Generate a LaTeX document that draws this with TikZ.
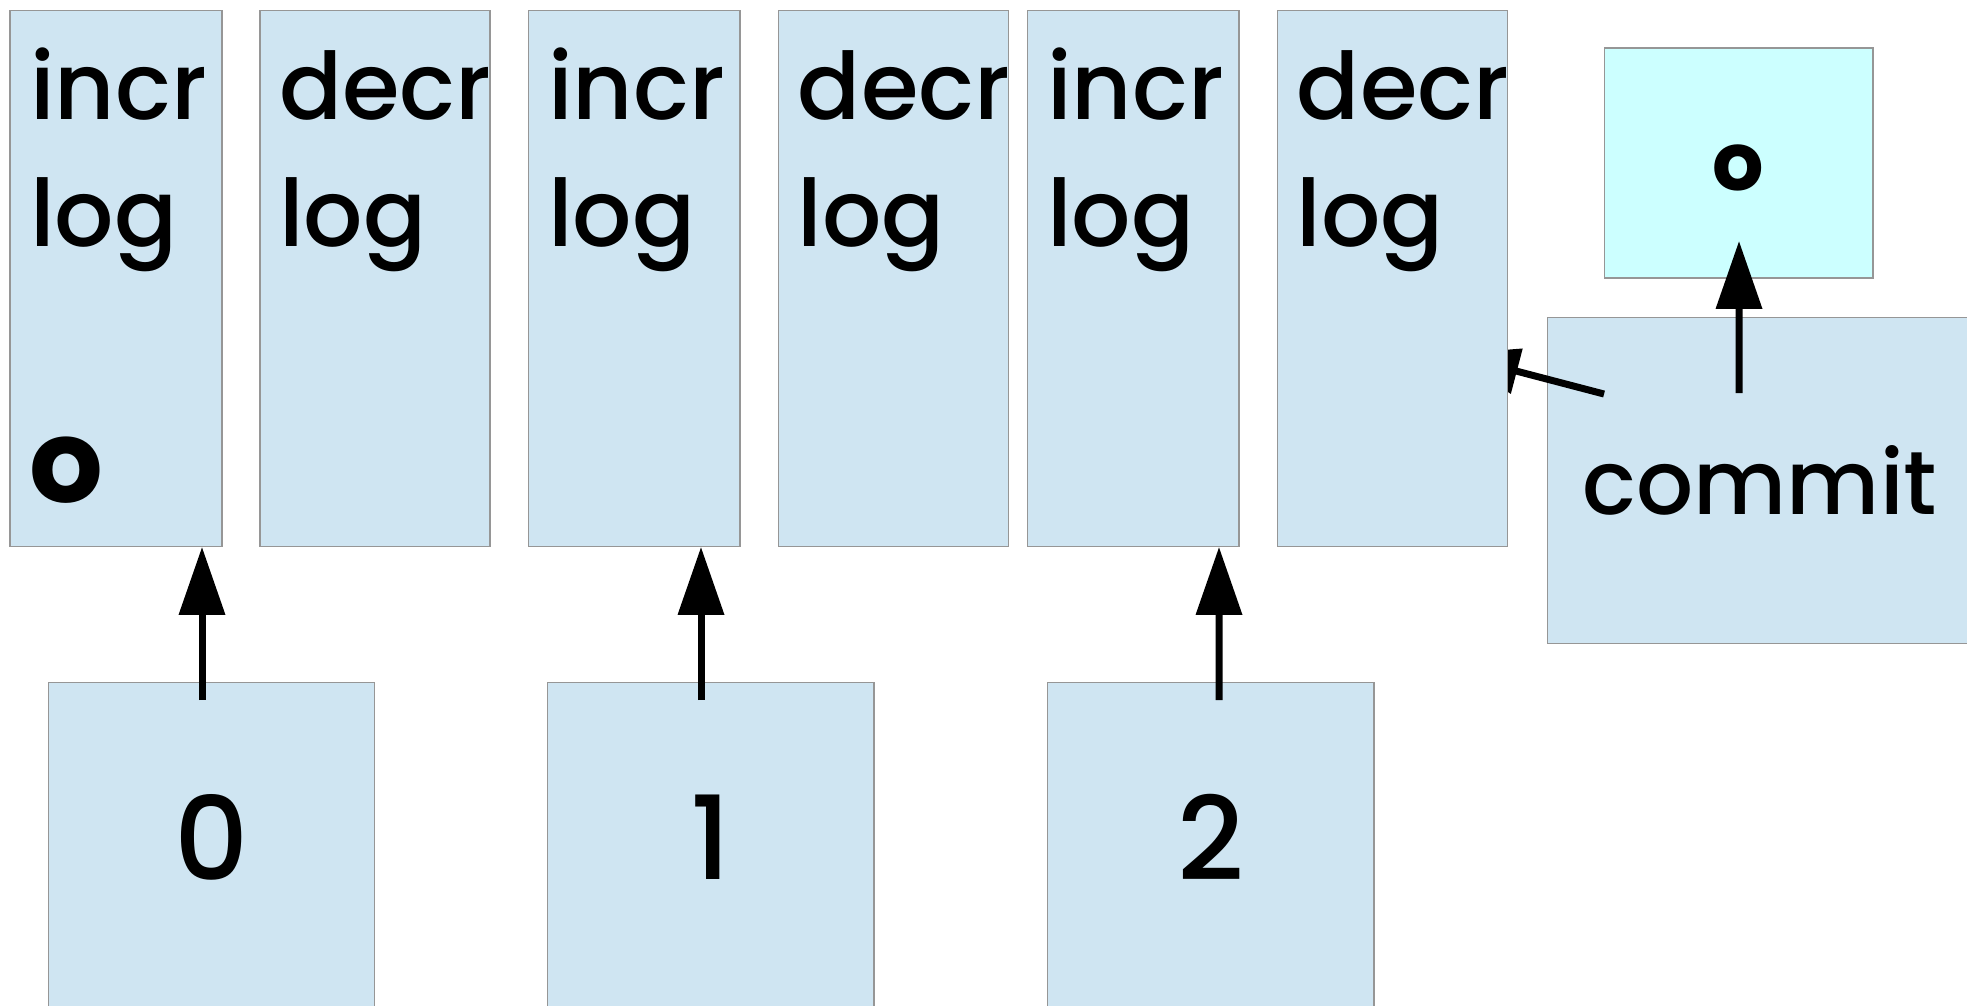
\documentclass[tikz,border=0pt]{standalone}
\usepackage{fontspec}
\setmainfont{Poppins}[UprightFont={* Medium}, BoldFont={* Bold}]
\usepackage{xcolor}
\usetikzlibrary{arrows.meta, positioning}

\definecolor{logblue}{RGB}{207,229,242}
\definecolor{headcyan}{RGB}{204,255,255}
\definecolor{boxgray}{RGB}{150,150,150}

\begin{document}
\begin{tikzpicture}[
    x=0.02cm, y=-0.02cm,
    >={Triangle[length=1.36cm, width=0.9cm]},
    logbox/.style={rectangle, draw=boxgray, line width=0.6pt, fill=logblue, outer sep=0pt, inner sep=0pt},
    incrbox/.style={logbox, minimum width=4.24cm, minimum height=10.74cm},
    decrbox/.style={logbox, minimum width=4.6cm, minimum height=10.74cm},
    valbox/.style={logbox, minimum width=6.54cm, minimum height=6.54cm},
    logtext/.style={font=\fontsize{53}{72}\selectfont, align=left, inner sep=0pt, anchor=base west},
    digit/.style={font=\fontsize{66}{66}\selectfont, inner sep=0pt},
    arr/.style={->, line width=0.14cm}
]
\useasboundingbox (0,0) rectangle (1967,1006);

% commit and its head
\node[logbox, minimum width=8.52cm, minimum height=6.54cm, font=\fontsize{51}{51}\selectfont] (commit) at (1760,480.5) {commit};
\node[logbox, fill=headcyan, minimum width=5.38cm, minimum height=4.6cm] (C) at (1738.5,163) {};
\node[font=\fontsize{46}{46}\selectfont\bfseries, inner sep=0pt] (c0) at ([yshift=-0.1cm]C.center) {o};

\coordinate (tip) at (1451,354);
\draw[arr] ([shift={(57,77)}]commit.north west) -- (tip);
\draw[arr] ([shift={(-21,76)}]commit.north) -- ([shift={(0.5,-37)}]C.south);

% Nodes
\node[incrbox] (T1) at (116,278.5) {};
\node[logtext] (t1) at ([shift={(20,236)}]T1.north west) {incr\\log};
\node[font=\fontsize{66}{66}\selectfont\bfseries, inner sep=0pt, anchor=base west] (o1) at ([shift={(19,492)}]T1.north west) {o};

\node[decrbox] (T2) at (375,278.5) {};
\node[logtext] (t2) at ([shift={(19,236)}]T2.north west) {decr\\log};

\node[incrbox] (T3) at (634,278.5) {};
\node[logtext] (t3) at ([shift={(20,236)}]T3.north west) {incr\\log};

\node[decrbox] (T4) at (893.5,278.5) {};
\node[logtext] (t4) at ([shift={(19,236)}]T4.north west) {decr\\log};

\node[incrbox] (T5) at (1133,278.5) {};
\node[logtext] (t5) at ([shift={(20,236)}]T5.north west) {incr\\log};

\node[decrbox] (T6) at (1392.5,278.5) {};
\node[logtext] (t6) at ([shift={(19,236)}]T6.north west) {decr\\log};

\node[valbox] (B0) at (211.5,845.5) {};
\node[digit] (d0) at ([yshift=0.16cm]B0.center) {0};
\node[valbox] (B1) at (710.5,845.5) {};
\node[digit] (d1) at ([yshift=0.16cm]B1.center) {1};
\node[valbox] (B2) at (1210.5,845.5) {};
\node[digit] (d2) at ([yshift=0.16cm]B2.center) {2};

\draw[arr] ([shift={(-9.5,18)}]B0.north) -- ([shift={(86,0)}]T1.south);
\draw[arr] ([shift={(-9.5,18)}]B1.north) -- ([shift={(67,0)}]T3.south);
\draw[arr] ([shift={(8.5,18)}]B2.north) -- ([shift={(86,0)}]T5.south);

\end{tikzpicture}
\end{document}
